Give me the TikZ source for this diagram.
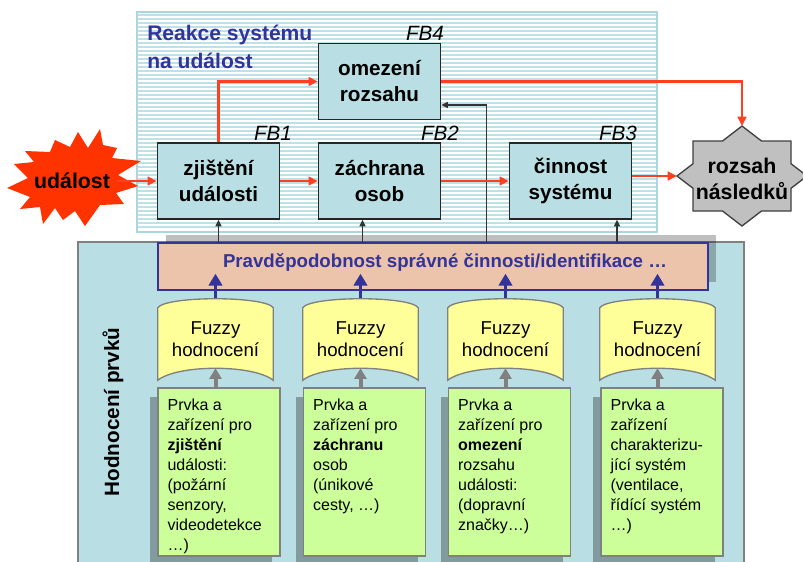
\documentclass[tikz,border=0pt]{standalone}
\usepackage{fontspec}
\setmainfont{Liberation Sans}
\usetikzlibrary{arrows.meta,calc,shadows}

\definecolor{boxblue}{RGB}{185,223,228}
\definecolor{stripecol}{RGB}{190,225,231}
\definecolor{topedge}{RGB}{170,214,222}
\definecolor{salmon}{RGB}{236,196,172}
\definecolor{navy}{RGB}{51,51,153}
\definecolor{fuzzyfill}{RGB}{255,255,153}
\definecolor{greenfill}{RGB}{204,255,153}
\definecolor{edgegrey}{RGB}{128,128,128}
\definecolor{burst}{RGB}{255,51,0}
\definecolor{redline}{RGB}{255,64,32}
\definecolor{stargrey}{RGB}{192,192,192}

\newcommand\fuzzytape[1]{%
  \draw[draw=edgegrey, line width=1pt, fill=fuzzyfill]
    ($(#1.north west)+(0,10)$)
      .. controls ($(#1.north west)+(8,-2)$) and ($(#1.north east)+(-8,-2)$)
      .. ($(#1.north east)+(0,10)$)
    -- (#1.south east)
      .. controls ($(#1.south east)+(-20,-16)$) and ($(#1.south west)+(20,-16)$)
      .. (#1.south west)
    -- cycle;}

\begin{document}
\begin{tikzpicture}[x=0.75pt,y=-0.75pt,
  fbbox/.style={draw=black!85, line width=1pt, fill=boxblue,
    minimum width=91.5pt, minimum height=57pt, inner sep=0pt, align=center,
    font=\bfseries\fontsize{15.5}{19.5}\selectfont},
  fblabel/.style={font=\itshape\fontsize{15.5}{17}\selectfont, inner sep=0pt},
  redarr/.style={draw=redline, line width=1.8pt,
    -{Triangle[length=7pt,width=6.5pt]}},
  blkarr/.style={draw=black!80, line width=0.9pt,
    -{Triangle[length=5pt,width=4.5pt]}},
  bluearr/.style={draw=navy, line width=2.6pt,
    -{Triangle[length=9pt,width=10pt]}},
  greyarr/.style={draw=edgegrey, line width=3pt,
    -{Triangle[length=8pt,width=9pt]}},
  fuzzynode/.style={minimum width=86.25pt, minimum height=61.5pt, inner sep=0pt,
    align=center, font=\fontsize{14}{16.5}\selectfont},
  greenbox/.style={draw=edgegrey, line width=1pt, fill=greenfill,
    minimum width=91.5pt, minimum height=126pt, inner sep=0pt,
    drop shadow={shadow xshift=-6pt, shadow yshift=-6.75pt, opacity=.3, fill=black}},
  greentext/.style={anchor=north west, inner sep=0pt, align=left,
    font=\fontsize{12}{15}\selectfont},
]
\useasboundingbox (0,0) rectangle (803,561);

% upper panel with horizontal stripes
\fill[white] (137,12) rectangle (657,232);
\foreach \yy in {15,19,...,229}
  \draw[stripecol, line width=1.5pt] (138,\yy) -- (656,\yy);
\draw[topedge, line width=1.5pt] (137,12) rectangle (657,232);
\node[anchor=west, align=left, text=navy, inner sep=0pt,
  font=\bfseries\fontsize{15.8}{21}\selectfont] (ttl) at (147,47)
  {Reakce systému\\na událost};

% lower panel
\draw[edgegrey, line width=2pt, fill=boxblue] (78,242) rectangle (744,580);
\node[rotate=90, inner sep=0pt, font=\bfseries\fontsize{15.5}{18}\selectfont]
  (hp) at (113,412) {Hodnocení prvků};

% function blocks
\node[fbbox] (fb1) at (218.5,181) {zjištění\\události};
\node[fbbox] (fb2) at (379.5,181) {záchrana\\osob};
\node[fbbox] (fb3) at (570.5,181) {činnost\\systému};
\node[fbbox] (fb4) at (379.5,81.5) {omezení\\rozsahu};
\node[fblabel] (l1) at (273,133) {FB1};
\node[fblabel] (l2) at (440,133) {FB2};
\node[fblabel] (l3) at (618,133) {FB3};
\node[fblabel] (l4) at (425,33) {FB4};

% the event burst
\fill[burst] (100,129) -- (103,145) -- (117,148) -- (112,158) -- (141,161)
  -- (118,175) -- (138,186) -- (116,193) -- (124,204) -- (100,205)
  -- (85,226) -- (75,211) -- (63,220) -- (55,208) -- (43,224) -- (40,207)
  -- (20,209) -- (30,197) -- (7,188) -- (28,178) -- (14,164) -- (34,162)
  -- (25,151) -- (50,152) -- (55,140) -- (70,147) -- (78,132) -- (88,148)
  -- cycle;
\node[inner sep=4pt, font=\bfseries\fontsize{16}{18}\selectfont]
  (ev) at (72,181) {událost};

% consequences star
\begin{scope}[shift={(742,176)}]
\draw[fill=stargrey, draw=black!75, line width=1pt]
  (0,-50) -- (19.5,-35) -- (49,-35) -- (49,-12.3) -- (65,0) -- (49,12.3)
  -- (49,35) -- (19.5,35) -- (0,50) -- (-19.5,35) -- (-49,35) -- (-49,12.3)
  -- (-65,0) -- (-49,-12.3) -- (-49,-35) -- (-19.5,-35) -- cycle;
\end{scope}
\coordinate (resN) at (742,126);
\coordinate (resW) at (677,176);
\node[align=center, inner sep=0pt, font=\bfseries\fontsize{16}{20}\selectfont]
  (res) at (742,179) {rozsah\\následků};

% probability bar
\node[draw=navy, line width=1pt, fill=salmon, minimum width=412.5pt,
  minimum height=35.25pt, inner sep=0pt,
  drop shadow={shadow xshift=6pt, shadow yshift=6pt, opacity=.25, fill=black}]
  (prob) at (433,266.5) {};
\node[inner sep=0pt, text=navy, font=\bfseries\fontsize{14}{16}\selectfont]
  (probtxt) at (445,262) {Pravděpodobnost správné činnosti/identifikace …};

% fuzzy evaluation tapes
\node[fuzzynode] (fz1) at (215.5,339) {};
\node[fuzzynode] (fz2) at (360.5,339) {};
\node[fuzzynode] (fz3) at (505.5,339) {};
\node[fuzzynode] (fz4) at (657.5,339) {};
\foreach \n in {fz1,fz2,fz3,fz4} {\fuzzytape{\n}}
\foreach \n in {fz1,fz2,fz3,fz4}
  \node[fuzzynode] at (\n) {Fuzzy\\hodnocení};

% element boxes
\node[greenbox] (gr1) at (219,472) {};
\node[greenbox] (gr2) at (364.5,472) {};
\node[greenbox] (gr3) at (509.5,472) {};
\node[greenbox] (gr4) at (662,472) {};
\node[greentext] (t1) at ($(gr1.north west)+(10,11)$)
  {Prvka a\\zařízení pro\\\textbf{zjištění}\\události:\\(požární\\senzory,\\videodetekce\\…)};
\node[greentext] (t2) at ($(gr2.north west)+(10,11)$)
  {Prvka a\\zařízení pro\\\textbf{záchranu}\\osob\\(únikové\\cesty, …)};
\node[greentext] (t3) at ($(gr3.north west)+(10,11)$)
  {Prvka a\\zařízení pro\\\textbf{omezení}\\rozsahu\\události:\\(dopravní\\značky…)};
\node[greentext] (t4) at ($(gr4.north west)+(10,11)$)
  {Prvka a\\zařízení\\charakterizu-\\jící systém\\(ventilace,\\řídící systém\\…)};

% element boxes feed the fuzzy evaluation
\foreach \i in {1,2,3,4}
  \draw[greyarr, shorten >=-9pt] (gr\i.north -| fz\i) -- (fz\i.south);
% fuzzy evaluation feeds the probability bar
\foreach \i in {1,2,3,4}
  \draw[bluearr, shorten >=-12.75pt] (fz\i.north) -- (fz\i.north |- prob.south);

% probability bar feeds the function blocks
\coordinate (b2) at ($(fb2.south)+(-17,0)$);
\coordinate (b3) at ($(fb3.south)+(46.5,0)$);
\coordinate (b4) at ($(fb4.east)+(45,23.5)$);
\draw[blkarr] (prob.north -| fb1) -- (fb1.south);
\draw[blkarr] (b2 |- prob.north) -- (b2);
\draw[blkarr] (b3 |- prob.north) -- (b3);
\draw[blkarr] (b4 |- prob.north) -- (b4) -- (fb4.east |- b4);

% event chain
\draw[redarr] (ev.east) -- (fb1.west);
\draw[redarr] (fb1.east) -- (fb2.west);
\draw[redarr] (fb2.east) -- (fb3.west);
\draw[redarr] (fb3.east |- resW) -- (resW);
\draw[redarr] (fb1.north) |- (fb4.west);
\draw[redarr] (fb4.east) -| (resN);
\end{tikzpicture}
\end{document}
